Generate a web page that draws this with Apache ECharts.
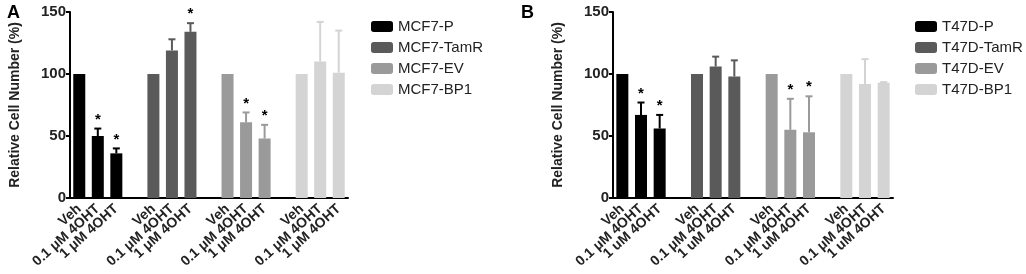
<!DOCTYPE html>
<html>
<head>
<meta charset="utf-8">
<script src="https://cdn.jsdelivr.net/npm/echarts@6/dist/echarts.min.js"></script>
<style>
html,body{margin:0;padding:0;background:#fff;}
#chart{width:1026px;height:274px;}
</style>
</head>
<body>
<div id="chart"></div>
<script>
// 每组三个处理
var labelsA = ['Veh', '0.1 μM 4OHT', '1 μM 4OHT'];
var labelsB = ['Veh', '0.1 μM 4OHT', '1 uM 4OHT'];

var namesA = ['MCF7-P', 'MCF7-TamR', 'MCF7-EV', 'MCF7-BP1'];
var namesB = ['T47D-P', 'T47D-TamR', 'T47D-EV', 'T47D-BP1'];
var colors = ['#000000', '#5a5a5a', '#9a9a9a', '#d4d4d4'];

// A 面板 均值 / 误差上限 / 显著性
var meanA = [[100, 50, 36], [100, 119, 134], [100, 61, 48], [100, 110, 101]];
var errA  = [[null, 56, 40], [null, 128, 141], [null, 69, 59], [null, 142, 135]];
var starA = [[0, 1, 1], [0, 0, 1], [0, 1, 1], [0, 0, 0]];

// B 面板
var meanB = [[100, 67, 56], [100, 106, 98], [100, 55, 53], [100, 92, 93]];
var errB  = [[null, 77, 67], [null, 114, 111], [null, 80, 82], [null, 112, 93.5]];
var starB = [[0, 1, 1], [0, 0, 0], [0, 1, 1], [0, 0, 0]];

var yTicks = [0, 50, 100, 150];
var font = 'Liberation Sans, Arial, sans-serif';

//类目：每组三个 + 空位
function buildCats(labels){
	var cats = [];
	for(var g=0;g<4;g++){
		for(var k=0;k<3;k++) cats.push(labels[k]);
		if(g<3) cats.push('');
	}
	return cats;
}

function barSeries(names, mean, axisIdx){
	var list = [];
	for(var g=0;g<4;g++){
		var d = [];
		for(var i=0;i<15;i++) d.push('-');
		for(var k=0;k<3;k++) d[g*4+k] = mean[g][k];
		list.push({
			name: names[g],
			type: 'bar',
			xAxisIndex: axisIdx,
			yAxisIndex: axisIdx,
			barWidth: 12,
			barGap: '-100%',
			itemStyle: {color: colors[g]},
			data: d
		});
	}
	return list;
}

function errSeries(mean, err, star, axisIdx){
	var d = [];
	for(var g=0;g<4;g++){
		for(var k=0;k<3;k++){
			d.push([g*4+k, mean[g][k], err[g][k] == null ? mean[g][k] : err[g][k], star[g][k], g]);
		}
	}
	return {
		type: 'custom',
		xAxisIndex: axisIdx,
		yAxisIndex: axisIdx,
		data: d,
		z: 1,
		renderItem: function(params, api){
			var x = api.value(0);
			var top = api.coord([x, api.value(2)]);
			var base = api.coord([x, api.value(1)]);
			var c = colors[api.value(4)];
			var children = [];
			if(api.value(2) > api.value(1)){
				children.push({type:'line', shape:{x1:top[0], y1:base[1], x2:top[0], y2:top[1]}, style:{stroke:c, lineWidth:2}});
				children.push({type:'line', shape:{x1:top[0]-3.5, y1:top[1], x2:top[0]+3.5, y2:top[1]}, style:{stroke:c, lineWidth:2}});
			}
			if(api.value(3) == 1){
				children.push({type:'text', style:{text:'*', x:top[0], y:top[1]-9, fill:'#000', font:'bold 15px '+font, align:'center', verticalAlign:'middle'}});
			}
			return {type:'group', children: children};
		}
	};
}

function yAxisCfg(idx){
	return {
		gridIndex: idx,
		type: 'value',
		min: 0, max: 150, interval: 50,
		name: 'Relative Cell Number (%)',
		nameLocation: 'middle',
		nameGap: 48,
		nameTextStyle: {fontFamily: font, fontWeight: 'bold', fontSize: 14, color: '#222'},
		axisLine: {show: true, lineStyle: {color: '#000', width: 2}},
		axisTick: {show: true, length: 4, lineStyle: {color: '#000', width: 2}},
		axisLabel: {fontFamily: font, fontWeight: 'bold', fontSize: 15, color: '#222', margin: 4,
			formatter: function(v){ return yTicks.indexOf(v) >= 0 ? v : ''; }},
		splitLine: {show: false}
	};
}

function xAxisCfg(idx, labels){
	return {
		gridIndex: idx,
		type: 'category',
		data: buildCats(labels),
		axisLine: {lineStyle: {color: '#000', width: 2}},
		axisTick: {show: false},
		axisLabel: {interval: 0, rotate: 42, fontFamily: font, fontWeight: 'bold', fontSize: 14, color: '#222', margin: 9}
	};
}

var myChart = echarts.init(document.getElementById('chart'));
var option = {
	animation: false,
	backgroundColor: '#fff',
	grid: [
		{left: 70, top: 12, width: 278, height: 186},
		{left: 613, top: 12, width: 280, height: 186}
	],
	legend: [
		{data: namesA, orient: 'vertical', left: 366, top: 14, itemWidth: 22, itemHeight: 11, itemGap: 6,
			icon: 'roundRect', textStyle: {fontFamily: font, fontSize: 15, color: '#222'}},
		{data: namesB, orient: 'vertical', left: 910, top: 14, itemWidth: 22, itemHeight: 11, itemGap: 6,
			icon: 'roundRect', textStyle: {fontFamily: font, fontSize: 15, color: '#222'}}
	],
	graphic: [
		{type: 'text', left: 7, top: 4, style: {text: 'A', font: 'bold 18px ' + font, fill: '#000'}},
		{type: 'text', left: 521, top: 4, style: {text: 'B', font: 'bold 18px ' + font, fill: '#000'}}
	],
	xAxis: [xAxisCfg(0, labelsA), xAxisCfg(1, labelsB)],
	yAxis: [yAxisCfg(0), yAxisCfg(1)],
	series: [].concat(
		barSeries(namesA, meanA, 0),
		barSeries(namesB, meanB, 1),
		[errSeries(meanA, errA, starA, 0), errSeries(meanB, errB, starB, 1)]
	)
};
myChart.setOption(option);
</script>
</body>
</html>
